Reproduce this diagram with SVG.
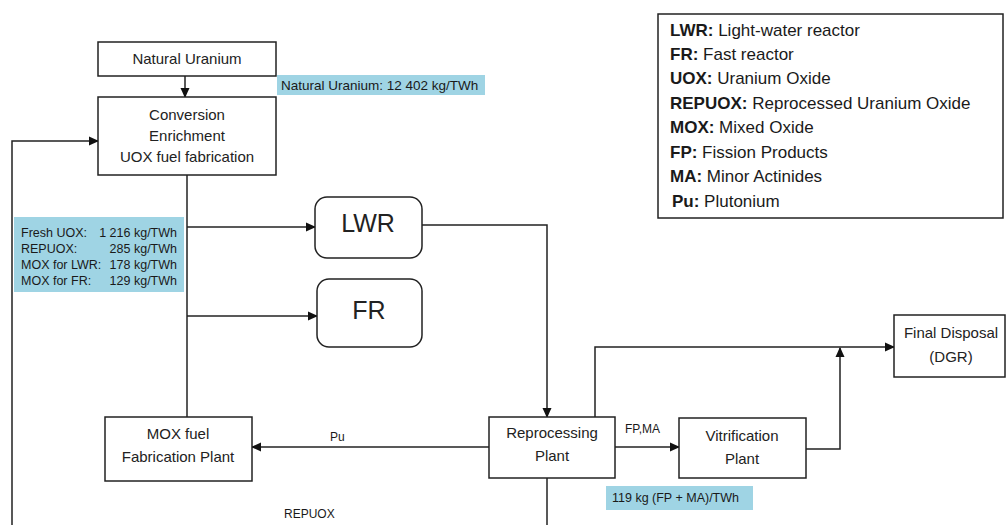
<svg xmlns="http://www.w3.org/2000/svg" width="1008" height="525" viewBox="0 0 1008 525">
<defs>
<marker id="ah" markerWidth="10" markerHeight="10" refX="9" refY="5" orient="auto" markerUnits="userSpaceOnUse">
<path d="M0,0.5 L10,5 L0,9.5 Z" fill="#111"/>
</marker>
<style>
.box{fill:#fff;stroke:#222;stroke-width:1.5}
.t{font-family:"Liberation Sans",Arial,sans-serif;font-size:15px;fill:#222;text-anchor:middle}
.big{font-family:"Liberation Sans",Arial,sans-serif;font-size:25px;fill:#222;text-anchor:middle}
.lbl{fill:#9fd4e4}
.s{font-family:"Liberation Sans",Arial,sans-serif;font-size:12.5px;fill:#1a1a1a}
.sm{font-family:"Liberation Sans",Arial,sans-serif;font-size:12px;fill:#1a1a1a}
.nu{font-family:"Liberation Sans",Arial,sans-serif;font-size:13.5px;fill:#1a1a1a}
.leg{font-family:"Liberation Sans",Arial,sans-serif;font-size:17px;fill:#1a1a1a}
.leg .b{font-weight:bold}
.c{fill:none;stroke:#222;stroke-width:1.5}
.ca{fill:none;stroke:#222;stroke-width:1.5;marker-end:url(#ah)}
</style>
</defs>
<rect width="1008" height="525" fill="#fff"/>

<g id="connectors">
<path class="ca" d="M185,76 V97"/>
<path class="ca" d="M12,525 V141 H98"/>
<path class="c" d="M187,175 V417"/>
<path class="ca" d="M187,227 H315"/>
<path class="ca" d="M187,316 H317"/>
<path class="ca" d="M422,225 H547 V417"/>
<path class="ca" d="M489,447 H252"/>
<path class="c" d="M547,478 V525"/>
<path class="ca" d="M595,417 V347 H894"/>
<path class="ca" d="M615,447 H679"/>
<path class="ca" d="M806,449 H840 V348"/>
<text class="sm" x="330" y="441">Pu</text>
<text class="sm" x="625" y="433">FP,MA</text>
<text class="sm" x="284" y="518">REPUOX</text>
</g>

<g id="natural-uranium">
<rect class="box" x="98" y="42" width="178" height="34"/>
<text class="t" x="187" y="64">Natural Uranium</text>
</g>
<g id="natural-uranium-label">
<rect class="lbl" x="277" y="75" width="208" height="20"/>
<text class="nu" x="281" y="89.5">Natural Uranium: 12 402 kg/TWh</text>
</g>

<g id="conversion">
<rect class="box" x="98" y="97" width="178" height="78"/>
<text class="t" x="187" y="120">Conversion</text>
<text class="t" x="187" y="141">Enrichment</text>
<text class="t" x="187" y="162">UOX fuel fabrication</text>
</g>

<g id="fuel-label">
<rect class="lbl" x="14" y="217" width="170" height="75"/>
<text class="s" x="21" y="237">Fresh UOX:</text>
<text class="s" x="177" y="237" text-anchor="end">1 216 kg/TWh</text>
<text class="s" x="21" y="253">REPUOX:</text>
<text class="s" x="177" y="253" text-anchor="end">285  kg/TWh</text>
<text class="s" x="21" y="269">MOX for LWR:</text>
<text class="s" x="177" y="269" text-anchor="end">178 kg/TWh</text>
<text class="s" x="21" y="285">MOX for FR:</text>
<text class="s" x="177" y="285" text-anchor="end">129 kg/TWh</text>
</g>

<g id="lwr">
<rect class="box" x="315" y="197" width="107" height="61" rx="12"/>
<text class="big" x="368" y="232">LWR</text>
</g>
<g id="fr">
<rect class="box" x="317" y="279" width="105" height="68" rx="12"/>
<text class="big" x="369" y="319">FR</text>
</g>

<g id="mox-plant">
<rect class="box" x="105" y="417" width="147" height="64"/>
<text class="t" x="178" y="439">MOX fuel</text>
<text class="t" x="178" y="462">Fabrication Plant</text>
</g>

<g id="reprocessing">
<rect class="box" x="489" y="417" width="126" height="61"/>
<text class="t" x="552" y="438">Reprocessing</text>
<text class="t" x="552" y="461">Plant</text>
</g>

<g id="vitrification">
<rect class="box" x="679" y="418" width="127" height="60"/>
<text class="t" x="742" y="441">Vitrification</text>
<text class="t" x="742" y="464">Plant</text>
</g>
<g id="fpma-label">
<rect class="lbl" x="606" y="486" width="147" height="24"/>
<text class="s" x="612" y="502">119 kg (FP + MA)/TWh</text>
</g>

<g id="final-disposal">
<rect class="box" x="894" y="315" width="111" height="62"/>
<text class="t" x="951" y="338">Final Disposal</text>
<text class="t" x="951" y="362">(DGR)</text>
</g>

<g id="legend">
<rect class="box" x="658" y="14" width="345" height="204"/>
<text class="leg" x="670" y="36"><tspan class="b">LWR:</tspan> Light-water reactor</text>
<text class="leg" x="670" y="60"><tspan class="b">FR:</tspan> Fast reactor</text>
<text class="leg" x="670" y="84"><tspan class="b">UOX:</tspan> Uranium Oxide</text>
<text class="leg" x="670" y="109"><tspan class="b">REPUOX:</tspan> Reprocessed Uranium Oxide</text>
<text class="leg" x="670" y="133"><tspan class="b">MOX:</tspan> Mixed Oxide</text>
<text class="leg" x="670" y="158"><tspan class="b">FP:</tspan> Fission Products</text>
<text class="leg" x="670" y="182"><tspan class="b">MA:</tspan> Minor Actinides</text>
<text class="leg" x="672" y="207"><tspan class="b">Pu:</tspan> Plutonium</text>
</g>
</svg>
